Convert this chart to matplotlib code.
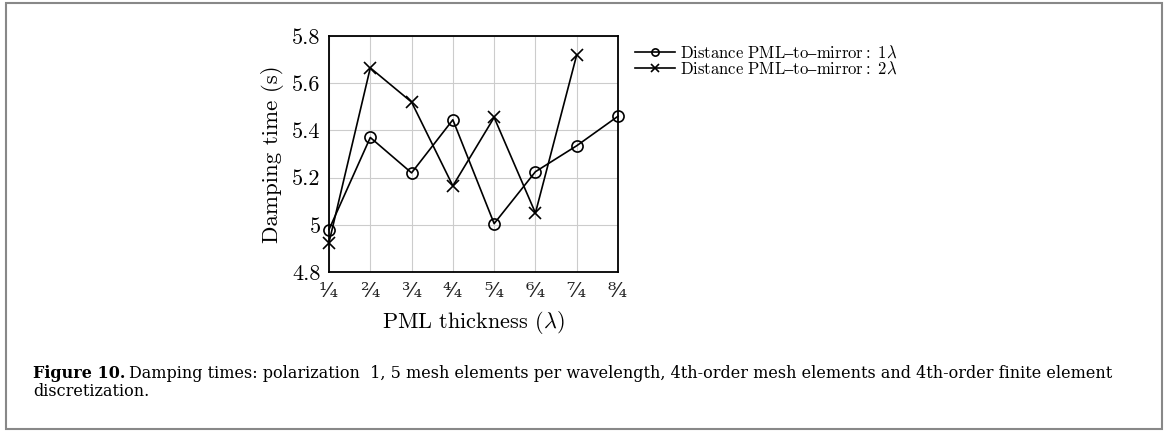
import matplotlib
matplotlib.use("Agg")
import matplotlib.pyplot as plt
from matplotlib.patches import Rectangle

plt.rcParams['mathtext.fontset'] = 'cm'
plt.rcParams['font.family'] = ['cmr10', 'DejaVu Serif']
plt.rcParams['axes.unicode_minus'] = False

# data
thickness = ['1/4', '2/4', '3/4', '4/4', '5/4', '6/4', '7/4', '8/4']
x_pos = [1, 2, 3, 4, 5, 6, 7, 8]
damp_1lambda = [4.98, 5.37, 5.22, 5.445, 5.005, 5.225, 5.335, 5.46]
damp_2lambda = [4.925, 5.665, 5.52, 5.165, 5.455, 5.05, 5.72]
y_ticks = [4.8, 5.0, 5.2, 5.4, 5.6, 5.8]
y_labels = ['4.8', '5', '5.2', '5.4', '5.6', '5.8']

# nicefrac-style labels: superscript numerator, fraction slash, subscript denominator
sup = str.maketrans('0123456789', '⁰¹²³⁴⁵⁶⁷⁸⁹')
sub = str.maketrans('0123456789', '₀₁₂₃₄₅₆₇₈₉')
x_labels = [t.split('/')[0].translate(sup) + '⁄' + t.split('/')[1].translate(sub)
            for t in thickness]

W, H = 1168, 432
fig = plt.figure(figsize=(W / 100, H / 100), dpi=100)
ax = fig.add_axes([329 / W, 1 - 272 / H, 289 / W, 236 / H])

ax.plot(x_pos, damp_1lambda, color='black', lw=1.2, marker='o', ms=8,
        mfc='none', mew=1.2, label=r'$\mathrm{Distance\ PML–to–mirror{:}\ 1}\lambda$',
        clip_on=False, zorder=3)
ax.plot(x_pos[:len(damp_2lambda)], damp_2lambda, color='black', lw=1.2, marker='x', ms=8.5,
        mew=1.2, label=r'$\mathrm{Distance\ PML–to–mirror{:}\ 2}\lambda$',
        clip_on=False, zorder=3)

ax.set_xlim(1, 8)
ax.set_ylim(4.8, 5.8)
ax.set_xticks(x_pos)
ax.set_xticklabels(x_labels, fontsize=15, family='DejaVu Serif', color='#222222')
ax.set_yticks(y_ticks)
ax.set_yticklabels(y_labels, fontsize=16)
ax.tick_params(length=0)
ax.tick_params(axis='y', pad=6)
ax.tick_params(axis='x', pad=7)
ax.grid(True, color='#cccccc', lw=0.8)
for sp in ax.spines.values():
    sp.set_linewidth(1.3)

ax.set_xlabel(r'PML thickness ($\lambda$)', fontsize=16, labelpad=6)
ax.set_ylabel('Damping time (s)', fontsize=16.5, labelpad=6)

ax.legend(loc='upper left', bbox_to_anchor=(635 / W, 1 - 44 / H),
          bbox_transform=fig.transFigure, frameon=False, borderpad=0, borderaxespad=0,
          fontsize=12, handlelength=2.4, handletextpad=0.3, labelspacing=0.0,
          markerscale=0.65)

# frame around the whole figure
fig.patches.append(Rectangle((6 / W, 3 / H), 1156 / W, 426 / H, transform=fig.transFigure,
                             fill=False, edgecolor='#888888', lw=1.5))

# caption
cap_font = 'DejaVu Serif'
fs = 11.5
t1 = fig.text(33 / W, 1 - 378 / H, 'Figure 10.', fontsize=fs, family=cap_font,
              fontweight='bold', va='baseline')
fig.canvas.draw()
bb = t1.get_window_extent()
fig.text((bb.x1 + 4) / W, 1 - 378 / H,
         'Damping times: polarization  1, 5 mesh elements per wavelength, '
         '4th-order mesh elements and 4th-order finite element',
         fontsize=fs, family=cap_font, va='baseline')
fig.text(33 / W, 1 - 396 / H, 'discretization.', fontsize=fs, family=cap_font, va='baseline')

fig.savefig('out.png', dpi=100)
